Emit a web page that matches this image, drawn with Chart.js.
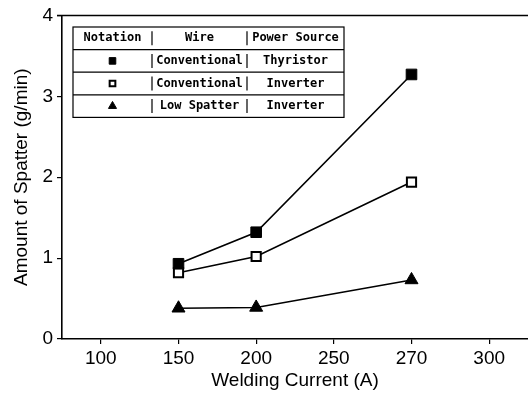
<!DOCTYPE html>
<html>
<head>
<meta charset="utf-8">
<script src="https://cdn.jsdelivr.net/npm/chart.js@4.4.1/dist/chart.umd.min.js"></script>
<style>
  body { margin: 0; background: #fff; }
  canvas { display: block; }
</style>
</head>
<body>
<canvas id="spatterChart" width="528" height="394"></canvas>
<script>
const currents = ["100", "150", "200", "250", "270", "300"];
const thyristorConv = [null, 0.93, 1.32, null, 3.27, null];
const inverterConv = [null, 0.82, 1.02, null, 1.94, null];
const inverterLowSpatter = [null, 0.38, 0.39, null, 0.73, null];

const tableHeader = ["Notation", "Wire", "Power Source"];
const tableRows = [
  ["Conventional", "Thyristor"],
  ["Conventional", "Inverter"],
  ["Low Spatter", "Inverter"]
];

const axisFont = { family: "'Liberation Sans', Arial, sans-serif", size: 19 };

// box round the plot (top edge) plus the notation table
const tablePlugin = {
  id: "notationTable",
  afterDraw(chart) {
    const ctx = chart.ctx;
    const area = chart.chartArea;
    ctx.save();
    ctx.strokeStyle = "#000";
    ctx.lineWidth = 1.5;
    ctx.beginPath();
    ctx.moveTo(57, area.top);
    ctx.lineTo(area.right, area.top);
    ctx.stroke();

    const left = 73, right = 344, top = 27, rowH = 22.6;
    const col1 = 152, col2 = 247;
    ctx.lineWidth = 1.2;
    ctx.strokeRect(left, top, right - left, rowH * 4);
    for (let i = 1; i < 4; i++) {
      ctx.beginPath();
      ctx.moveTo(left, top + rowH * i);
      ctx.lineTo(right, top + rowH * i);
      ctx.stroke();
    }

    ctx.fillStyle = "#000";
    ctx.font = "bold 12px 'DejaVu Sans Mono'";
    ctx.textBaseline = "middle";
    ctx.textAlign = "center";
    const cx = [(left + col1) / 2, (col1 + col2) / 2, (col2 + right) / 2];
    for (let r = 0; r < 4; r++) {
      const cy = top + rowH * r + rowH / 2;
      // column separators
      ctx.beginPath();
      ctx.moveTo(col1, cy - 7);
      ctx.lineTo(col1, cy + 7);
      ctx.moveTo(col2, cy - 7);
      ctx.lineTo(col2, cy + 7);
      ctx.stroke();
      if (r === 0) {
        tableHeader.forEach((t, i) => ctx.fillText(t, cx[i], cy));
      } else {
        const ds = chart.data.datasets[r - 1];
        ctx.fillText(tableRows[r - 1][0], cx[1], cy);
        ctx.fillText(tableRows[r - 1][1], cx[2], cy);
        ctx.fillStyle = ds.pointBackgroundColor;
        ctx.strokeStyle = "#000";
        ctx.lineWidth = ds.pointBorderWidth;
        Chart.helpers.drawPoint(ctx, {
          pointStyle: ds.pointStyle,
          radius: ds.pointRadius * 0.62,
          borderWidth: ds.pointBorderWidth,
          rotation: 0
        }, cx[0], cy);
        ctx.fillStyle = "#000";
        ctx.lineWidth = 1.2;
      }
    }
    ctx.restore();
  }
};

new Chart(document.getElementById("spatterChart"), {
  type: "line",
  data: {
    labels: currents,
    datasets: [
      {
        label: "Conventional / Thyristor",
        data: thyristorConv,
        borderColor: "#000",
        borderWidth: 1.6,
        pointStyle: "rect",
        pointRadius: 7.5,
        pointBackgroundColor: "#000",
        pointBorderColor: "#000",
        pointBorderWidth: 1,
        spanGaps: true
      },
      {
        label: "Conventional / Inverter",
        data: inverterConv,
        borderColor: "#000",
        borderWidth: 1.6,
        pointStyle: "rect",
        pointRadius: 6.5,
        pointBackgroundColor: "#fff",
        pointBorderColor: "#000",
        pointBorderWidth: 2,
        spanGaps: true
      },
      {
        label: "Low Spatter / Inverter",
        data: inverterLowSpatter,
        borderColor: "#000",
        borderWidth: 1.6,
        pointStyle: "triangle",
        pointRadius: 7.5,
        pointBackgroundColor: "#000",
        pointBorderColor: "#000",
        pointBorderWidth: 1,
        spanGaps: true
      }
    ]
  },
  options: {
    responsive: false,
    animation: false,
    layout: { autoPadding: false, padding: { top: 15, right: 0, left: 0, bottom: 0 } },
    plugins: {
      legend: { display: false },
      tooltip: { enabled: false }
    },
    scales: {
      x: {
        type: "category",
        offset: true,
        afterFit: s => { s.height = 55; },
        grid: { display: true, drawOnChartArea: false, drawTicks: true, tickLength: 5, color: "#000", lineWidth: 1.2 },
        border: { display: true, color: "#000", width: 1.6 },
        ticks: { color: "#000", font: axisFont, padding: 3, maxRotation: 0 },
        title: {
          display: true,
          text: "Welding Current (A)",
          color: "#000",
          font: axisFont,
          padding: { top: 0, bottom: 2 }
        }
      },
      y: {
        min: 0,
        max: 4,
        afterFit: s => { s.width = 62; },
        grid: { display: true, drawOnChartArea: false, drawTicks: true, tickLength: 5, color: "#000", lineWidth: 1.2 },
        border: { display: true, color: "#000", width: 1.6 },
        ticks: { stepSize: 1, color: "#000", font: axisFont, padding: 4 },
        title: {
          display: true,
          text: "Amount of Spatter (g/min)",
          color: "#000",
          font: axisFont,
          padding: { top: 10, bottom: 0 }
        }
      }
    }
  },
  plugins: [tablePlugin]
});
</script>
</body>
</html>
